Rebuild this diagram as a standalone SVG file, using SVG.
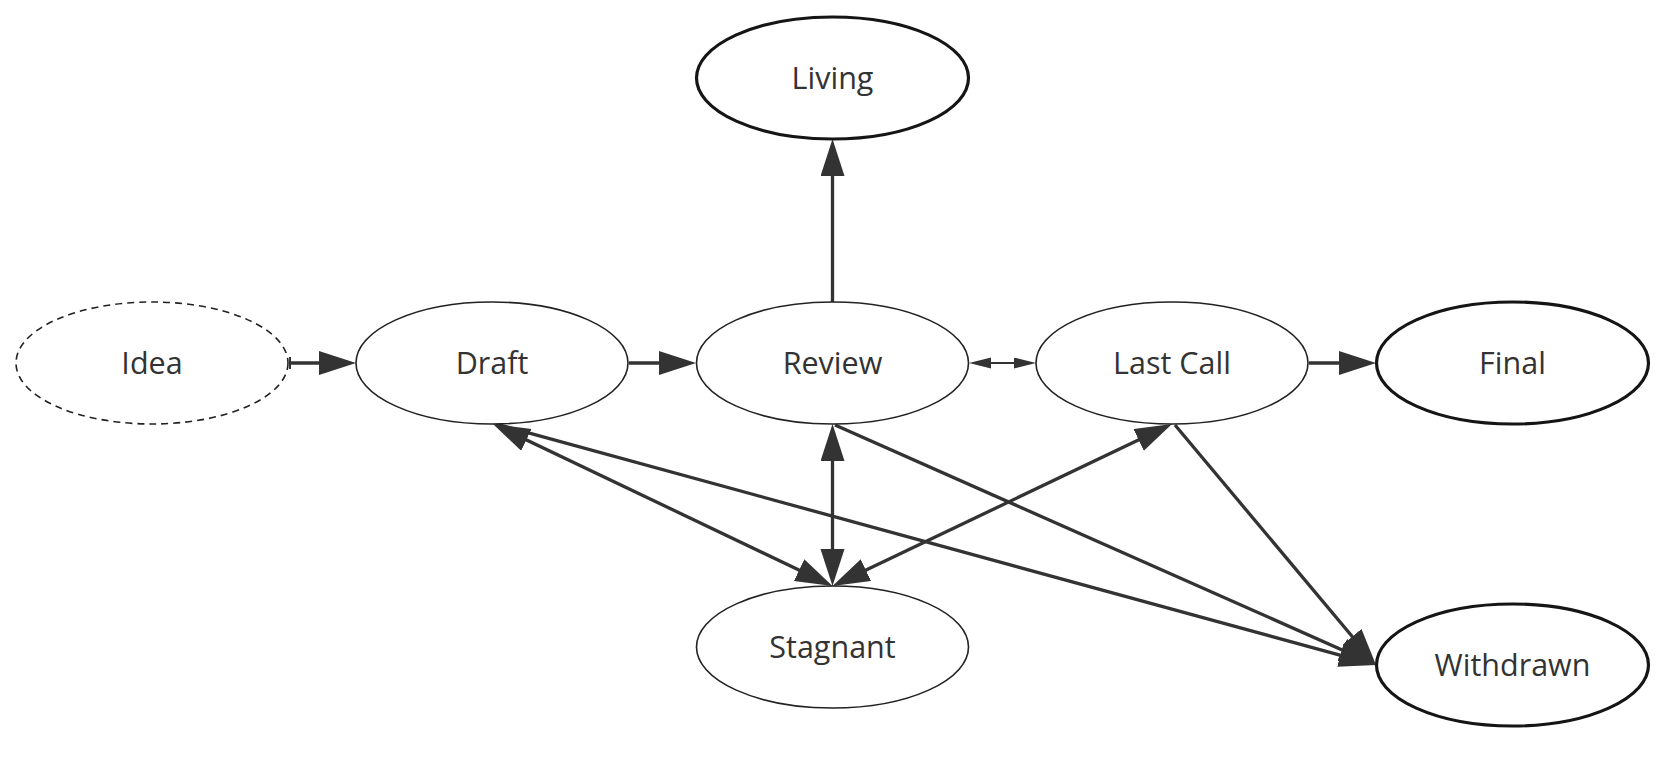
<svg xmlns="http://www.w3.org/2000/svg" width="1679" height="762" viewBox="0 0 1679 762">
<style>
  .n { fill: #ffffff; stroke: #222222; stroke-width: 1.6; }
  .thick { stroke: #151515; stroke-width: 3.2; }
  .dash { stroke-dasharray: 7 5; }
  .t { font-family: "Open Sans", "Noto Sans", "Liberation Sans", sans-serif; font-size: 30.5px; fill: #333333; text-anchor: middle; }
  .e { fill: none; stroke: #333333; stroke-width: 3.3; }
  .es { fill: none; stroke: #333333; stroke-width: 2; }
</style>
<defs>
  <marker id="ah" markerUnits="userSpaceOnUse" markerWidth="40" markerHeight="26" refX="27" refY="12" orient="auto-start-reverse">
    <path d="M0,0 L37,12 L0,24 z" fill="#333333"/>
  </marker>
  <marker id="sm" markerUnits="userSpaceOnUse" markerWidth="24" markerHeight="12" refX="16" refY="5.5" orient="auto-start-reverse">
    <path d="M0,0 L22,5.5 L0,11 z" fill="#333333"/>
  </marker>
</defs>
<rect width="1679" height="762" fill="#ffffff"/>
<g id="connectors">
  <line class="e" x1="289" y1="363" x2="346" y2="363" marker-end="url(#ah)"/>
  <line x1="290" y1="357" x2="290" y2="369" stroke="#333333" stroke-width="2"/>
  <line class="e" x1="629" y1="363" x2="686" y2="363" marker-end="url(#ah)"/>
  <line class="es" x1="975" y1="363" x2="1030" y2="363" marker-start="url(#sm)" marker-end="url(#sm)"/>
  <line class="e" x1="1309" y1="363" x2="1366" y2="363" marker-end="url(#ah)"/>
  <line class="e" x1="832.5" y1="302" x2="832.5" y2="149" marker-end="url(#ah)"/>
  <line class="e" x1="832.5" y1="434" x2="832.5" y2="576" marker-start="url(#ah)" marker-end="url(#ah)"/>
  <line class="e" x1="502" y1="428.3" x2="823.5" y2="581.7" marker-start="url(#ah)" marker-end="url(#ah)"/>
  <line class="e" x1="1163" y1="428.3" x2="841.5" y2="581.7" marker-start="url(#ah)" marker-end="url(#ah)"/>
  <line class="e" x1="835" y1="425" x2="1366.9" y2="660.9" marker-end="url(#ah)"/>
  <line class="e" x1="1175" y1="425" x2="1369.6" y2="657.3" marker-end="url(#ah)"/>
  <line class="e" x1="496" y1="424" x2="1366.4" y2="662.4" marker-end="url(#ah)"/>
</g>
<g id="idea">
  <ellipse class="n dash" cx="152" cy="363" rx="136" ry="61"/>
  <text class="t" x="152" y="374">Idea</text>
</g>
<g id="draft">
  <ellipse class="n" cx="492" cy="363" rx="136" ry="61"/>
  <text class="t" x="492" y="374">Draft</text>
</g>
<g id="review">
  <ellipse class="n" cx="832.5" cy="363" rx="136" ry="61"/>
  <text class="t" x="832.5" y="374">Review</text>
</g>
<g id="lastcall">
  <ellipse class="n" cx="1172" cy="363" rx="136" ry="61"/>
  <text class="t" x="1172" y="374">Last Call</text>
</g>
<g id="final">
  <ellipse class="n thick" cx="1512.5" cy="363" rx="136" ry="61"/>
  <text class="t" x="1512.5" y="374">Final</text>
</g>
<g id="living">
  <ellipse class="n thick" cx="832.5" cy="78" rx="136" ry="61"/>
  <text class="t" x="832.5" y="89">Living</text>
</g>
<g id="stagnant">
  <ellipse class="n" cx="832.5" cy="647" rx="136" ry="61"/>
  <text class="t" x="832.5" y="658">Stagnant</text>
</g>
<g id="withdrawn">
  <ellipse class="n thick" cx="1512.5" cy="665" rx="136" ry="61"/>
  <text class="t" x="1512.5" y="676">Withdrawn</text>
</g>
</svg>
